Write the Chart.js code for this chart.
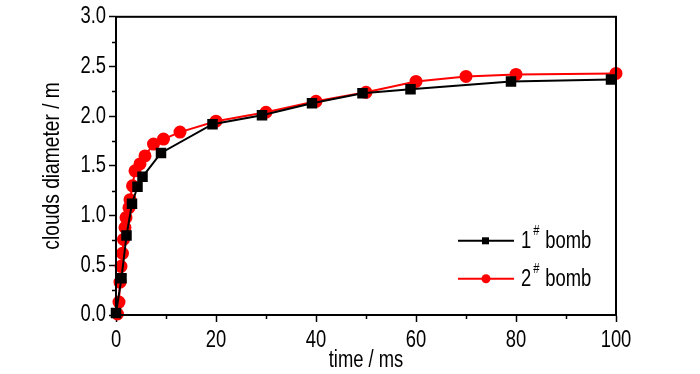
<!DOCTYPE html>
<html>
<head>
<meta charset="utf-8">
<script src="https://cdn.jsdelivr.net/npm/chart.js@4/dist/chart.umd.min.js"></script>
<style>
html,body{margin:0;padding:0;background:#fff;}
#wrap{width:700px;height:374px;position:relative;}
</style>
</head>
<body>
<div id="wrap"><canvas id="c" width="700" height="374"></canvas></div>
<script>
const bomb1Time = [0, 1.1, 2.1, 3.2, 4.3, 5.3, 9.0, 19.3, 29.2, 39.2, 49.3, 58.9, 79.0, 99.0];
const bomb1Diam = [0.02, 0.37, 0.80, 1.12, 1.29, 1.39, 1.63, 1.92, 2.01, 2.13, 2.23, 2.27, 2.35, 2.37];
const bomb2Time = [0.3, 0.6, 0.8, 1.0, 1.3, 1.5, 1.8, 2.0, 2.6, 2.8, 3.3, 3.8, 4.8, 5.8, 7.5, 9.5, 12.8, 20.0, 30.0, 40.0, 50.0, 60.0, 70.0, 80.0, 100.0];
const bomb2Diam = [0.01, 0.13, 0.33, 0.49, 0.62, 0.76, 0.88, 0.98, 1.08, 1.16, 1.30, 1.45, 1.52, 1.60, 1.72, 1.77, 1.84, 1.95, 2.04, 2.15, 2.24, 2.35, 2.40, 2.42, 2.43];
const seriesNames = ['1', '2'];
const seriesColors = ['#000000', '#ff0000'];
const xTitle = 'time / ms';
const yTitle = 'clouds diameter / m';

const FONT = "'Liberation Sans', Arial, sans-serif";
const NARROW = 0.8;
const toPts = (xs, ys) => xs.map((x, i) => ({x: x, y: ys[i]}));

// draw all text horizontally condensed (Arial Narrow look)
const narrowText = {
  id: 'narrowText',
  beforeInit(chart) {
    const ctx = chart.ctx;
    if (ctx.__narrow) return;
    const orig = ctx.fillText;
    ctx.fillText = function (t, x, y) {
      this.save();
      this.translate(x, y);
      this.scale(NARROW, 1);
      orig.call(this, t, 0, 0);
      this.restore();
    };
    ctx.__narrow = true;
  }
};

const framePlugin = {
  id: 'frame',
  afterDraw(chart) {
    const ctx = chart.ctx, a = chart.chartArea;
    const xs = chart.scales.x, ys = chart.scales.y;
    ctx.save();
    ctx.strokeStyle = '#000';
    ctx.lineWidth = 2;
    ctx.strokeRect(a.left, a.top, a.right - a.left, a.bottom - a.top);
    // minor ticks
    ctx.lineWidth = 1.5;
    ctx.beginPath();
    for (let v = 10; v < 100; v += 20) {
      const px = Math.round(xs.getPixelForValue(v)) + 0.5;
      ctx.moveTo(px, a.bottom); ctx.lineTo(px, a.bottom + 4);
    }
    for (let v = 0.25; v < 3; v += 0.5) {
      const py = Math.round(ys.getPixelForValue(v)) + 0.5;
      ctx.moveTo(a.left, py); ctx.lineTo(a.left - 4, py);
    }
    ctx.stroke();
    // legend
    const lx = a.left + 342, ly = [a.top + 224, a.top + 262];
    chart.data.datasets.forEach((ds, i) => {
      const y = ly[i];
      ctx.strokeStyle = ds.borderColor; ctx.lineWidth = 2;
      ctx.beginPath(); ctx.moveTo(lx, y); ctx.lineTo(lx + 56, y); ctx.stroke();
      ctx.fillStyle = ds.borderColor;
      if (i === 0) { ctx.fillRect(lx + 24, y - 3.5, 7, 7); }
      else { ctx.beginPath(); ctx.arc(lx + 28, y, 4.5, 0, Math.PI * 2); ctx.fill(); }
      ctx.fillStyle = '#000';
      ctx.textBaseline = 'middle';
      ctx.textAlign = 'left';
      ctx.font = '23px ' + FONT;
      ctx.fillText(seriesNames[i], lx + 63, y + 1);
      const w1 = ctx.measureText(seriesNames[i]).width * NARROW;
      ctx.font = '14px ' + FONT;
      ctx.fillText('#', lx + 63 + w1 + 2, y - 10);
      ctx.font = '23px ' + FONT;
      ctx.fillText('bomb', lx + 63 + w1 + 14, y + 1);
    });
    ctx.restore();
  }
};

new Chart(document.getElementById('c'), {
  type: 'scatter',
  data: {
    datasets: [
      {
        label: seriesNames[0] + '# bomb',
        data: toPts(bomb1Time, bomb1Diam),
        showLine: true,
        borderColor: seriesColors[0],
        backgroundColor: seriesColors[0],
        borderWidth: 2,
        pointStyle: 'rect',
        pointRadius: 6,
        pointHoverRadius: 6,
        tension: 0
      },
      {
        label: seriesNames[1] + '# bomb',
        data: toPts(bomb2Time, bomb2Diam),
        showLine: true,
        borderColor: seriesColors[1],
        backgroundColor: seriesColors[1],
        borderWidth: 2,
        pointStyle: 'circle',
        pointRadius: 5.5,
        pointHoverRadius: 5.5,
        tension: 0
      }
    ]
  },
  options: {
    responsive: false,
    animation: false,
    events: [],
    clip: false,
    layout: {padding: {top: 16, right: 84, left: 0, bottom: 0}},
    plugins: {legend: {display: false}, tooltip: {enabled: false}},
    scales: {
      x: {
        type: 'linear', min: 0, max: 100,
        ticks: {stepSize: 20, color: '#000', font: {family: FONT, size: 23}, padding: 5, maxRotation: 0},
        grid: {display: true, drawOnChartArea: false, drawTicks: true, tickLength: 7, tickWidth: 1.5, tickColor: '#000'},
        border: {display: true, color: '#000', width: 2},
        title: {display: true, text: xTitle, color: '#000', font: {family: FONT, size: 23}, padding: {top: 0, bottom: 0}},
        afterFit(s) { s.height = 59; }
      },
      y: {
        type: 'linear', min: 0, max: 3,
        ticks: {stepSize: 0.5, color: '#000', font: {family: FONT, size: 23}, padding: 3,
          callback: v => v.toFixed(1)},
        grid: {display: true, drawOnChartArea: false, drawTicks: true, tickLength: 7, tickWidth: 1.5, tickColor: '#000'},
        border: {display: true, color: '#000', width: 2},
        title: {display: true, text: yTitle, color: '#000', font: {family: FONT, size: 24}, padding: {top: 38, bottom: 0}},
        afterFit(s) { s.width = 116; }
      }
    }
  },
  plugins: [narrowText, framePlugin]
});
</script>
</body>
</html>
